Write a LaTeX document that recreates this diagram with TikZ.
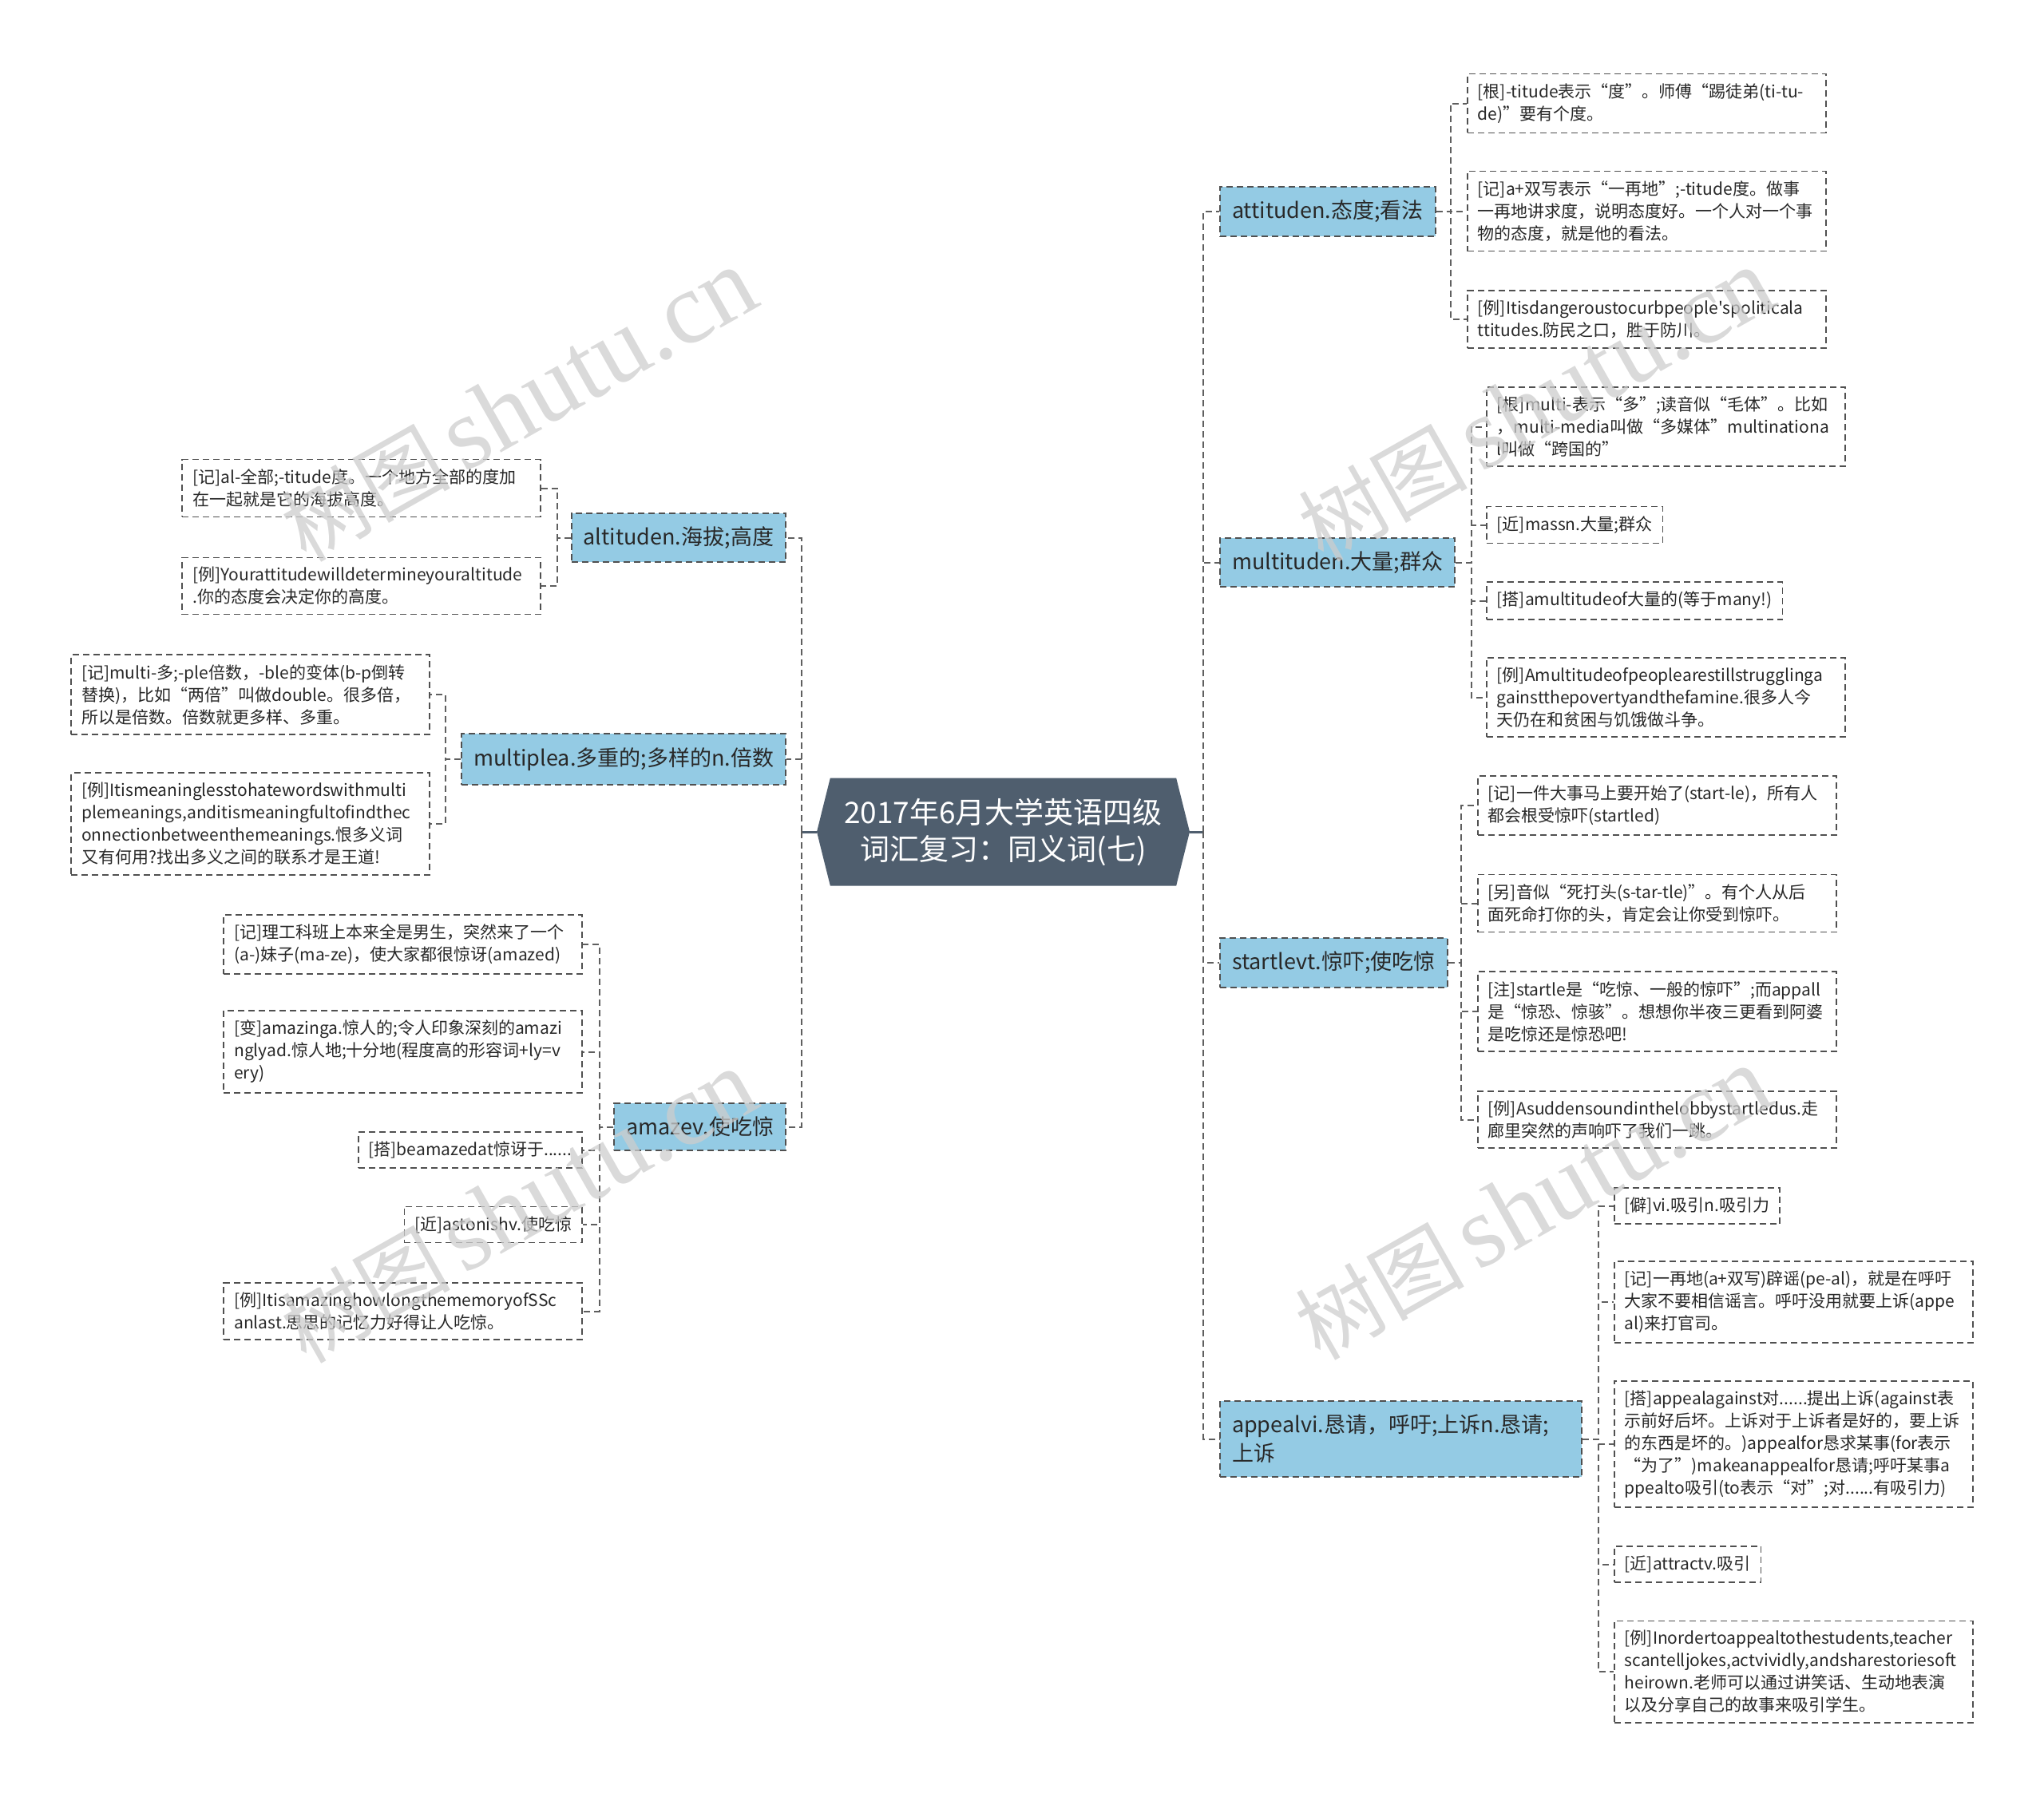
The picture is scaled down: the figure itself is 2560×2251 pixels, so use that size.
\documentclass[tikz,border=0pt]{standalone}
\usepackage{fontspec}
\setmainfont{Noto Sans CJK SC}[Ligatures=TeXOff]
\newfontfamily\wmserif{Liberation Serif}
\usetikzlibrary{shapes.symbols}

\definecolor{rootc}{RGB}{79,94,110}
\definecolor{branchc}{RGB}{148,203,228}
\definecolor{edgec}{RGB}{80,80,80}
\definecolor{linec}{RGB}{95,95,95}
\definecolor{textc}{RGB}{40,40,40}
\definecolor{markc}{RGB}{205,205,205}

\newcommand{\leaffont}{\fontsize{21}{28}\selectfont}
\newcommand{\branchfont}{\fontsize{27}{36}\selectfont}
\newcommand{\rootfont}{\fontsize{37}{46}\selectfont}
\newcommand{\wmtext}{{\fontsize{106}{106}\selectfont 树图}\hspace{16pt}{\wmserif\fontsize{128}{128}\selectfont shutu.cn}}

\tikzset{
  root/.style={signal, signal to=west and east, signal pointer angle=152, fill=rootc, text=white,
    font=\rootfont, align=center, minimum height=135pt, minimum width=467pt, inner sep=0pt},
  branch/.style={draw=edgec, dash pattern=on 8pt off 5pt, line width=2pt, fill=branchc, text=textc,
    font=\branchfont, inner xsep=15pt, inner ysep=17pt, align=left},
  leaf/.style={draw=edgec, dash pattern=on 8pt off 5pt, line width=1.6pt, fill=white, text=textc,
    font=\leaffont, inner xsep=13pt, inner ysep=12pt, align=left},
  wideleaf/.style={leaf, text width=423pt},
  link/.style={draw=linec, dash pattern=on 8pt off 5pt, line width=2pt},
  trunk/.style={draw=rootc, line width=3pt},
  wmark/.style={text=markc, text opacity=0.75, rotate=29.5, inner sep=0pt}
}

\begin{document}
\begin{tikzpicture}[x=1pt, y=-1pt]
  \useasboundingbox (0,0) rectangle (2560,2251);

  % centre
  \node[root] (root) at (1256.5,1042) {2017年6月大学英语四级\\词汇复习：同义词(七)};

  % right side
  \node[branch, anchor=west] (att) at (1527,265) {attituden.态度;看法};
  \node[branch, anchor=west] (mul) at (1527,704.5) {multituden.大量;群众};
  \node[branch, anchor=west] (sta) at (1527,1206) {startlevt.惊吓;使吃惊};
  \node[branch, anchor=west, text width=423pt] (app) at (1527,1802.5) {appealvi.恳请，呼吁;上诉n.恳请;\\上诉};

  \node[wideleaf, anchor=west] (a1) at (1837,129.5) {[根]-titude表示“度”。师傅“踢徒弟(ti-tu-\\de)”要有个度。};
  \node[wideleaf, anchor=west] (a2) at (1837,264.5) {[记]a+双写表示“一再地”;-titude度。做事\\一再地讲求度，说明态度好。一个人对一个事\\物的态度，就是他的看法。};
  \node[wideleaf, anchor=west] (a3) at (1837,400) {[例]Itisdangeroustocurbpeople'spoliticala\\ttitudes.防民之口，胜于防川。};

  \node[wideleaf, anchor=west] (m1) at (1861,534.5) {[根]multi-表示“多”;读音似“毛体”。比如\\，multi-media叫做“多媒体”multinationa\\l叫做“跨国的”};
  \node[leaf, anchor=west] (m2) at (1861,657.5) {[近]massn.大量;群众};
  \node[leaf, anchor=west] (m3) at (1861,752.5) {[搭]amultitudeof大量的(等于many!)};
  \node[wideleaf, anchor=west] (m4) at (1861,873.5) {[例]Amultitudeofpeoplearestillstrugglinga\\gainstthepovertyandthefamine.很多人今\\天仍在和贫困与饥饿做斗争。};

  \node[wideleaf, anchor=west] (s1) at (1850,1009) {[记]一件大事马上要开始了(start-le)，所有人\\都会根受惊吓(startled)};
  \node[wideleaf, anchor=west] (s2) at (1850,1131.5) {[另]音似“死打头(s-tar-tle)”。有个人从后\\面死命打你的头，肯定会让你受到惊吓。};
  \node[wideleaf, anchor=west] (s3) at (1850,1267) {[注]startle是“吃惊、一般的惊吓”;而appall\\是“惊恐、惊骇”。想想你半夜三更看到阿婆\\是吃惊还是惊恐吧!};
  \node[wideleaf, anchor=west] (s4) at (1850,1402.5) {[例]Asuddensoundinthelobbystartledus.走\\廊里突然的声响吓了我们一跳。};

  \node[leaf, anchor=west] (p1) at (2021,1510.5) {[僻]vi.吸引n.吸引力};
  \node[wideleaf, anchor=west] (p2) at (2021,1631) {[记]一再地(a+双写)辟谣(pe-al)，就是在呼吁\\大家不要相信谣言。呼吁没用就要上诉(appe\\al)来打官司。};
  \node[wideleaf, anchor=west] (p3) at (2021,1809) {[搭]appealagainst对......提出上诉(against表\\示前好后坏。上诉对于上诉者是好的，要上诉\\的东西是坏的。)appealfor恳求某事(for表示\\“为了”)makeanappealfor恳请;呼吁某事a\\ppealto吸引(to表示“对”;对......有吸引力)};
  \node[leaf, anchor=west] (p4) at (2021,1959.5) {[近]attractv.吸引};
  \node[wideleaf, anchor=west] (p5) at (2021,2094) {[例]Inordertoappealtothestudents,teacher\\scantelljokes,actvividly,andsharestoriesoft\\heirown.老师可以通过讲笑话、生动地表演\\以及分享自己的故事来吸引学生。};

  % left side
  \node[branch, anchor=east] (alt) at (985,673.5) {altituden.海拔;高度};
  \node[branch, anchor=east] (mpl) at (985,951) {multiplea.多重的;多样的n.倍数};
  \node[branch, anchor=east] (ama) at (985,1411.5) {amazev.使吃惊};

  \node[wideleaf, anchor=east] (l1) at (678,611.5) {[记]al-全部;-titude度。一个地方全部的度加\\在一起就是它的海拔高度。};
  \node[wideleaf, anchor=east] (l2) at (678,734) {[例]Yourattitudewilldetermineyouraltitude\\.你的态度会决定你的高度。};

  \node[wideleaf, anchor=east] (u1) at (539,870) {[记]multi-多;-ple倍数，-ble的变体(b-p倒转\\替换)，比如“两倍”叫做double。很多倍，\\所以是倍数。倍数就更多样、多重。};
  \node[wideleaf, anchor=east] (u2) at (539,1032) {[例]Itismeaninglesstohatewordswithmulti\\plemeanings,anditismeaningfultofindthec\\onnectionbetweenthemeanings.恨多义词\\又有何用?找出多义之间的联系才是王道!};

  \node[wideleaf, anchor=east] (z1) at (730,1183) {[记]理工科班上本来全是男生，突然来了一个\\(a-)妹子(ma-ze)，使大家都很惊讶(amazed)};
  \node[wideleaf, anchor=east] (z2) at (730,1317.5) {[变]amazinga.惊人的;令人印象深刻的amazi\\nglyad.惊人地;十分地(程度高的形容词+ly=v\\ery)};
  \node[leaf, anchor=east] (z3) at (730,1440.5) {[搭]beamazedat惊讶于......};
  \node[leaf, anchor=east] (z4) at (730,1534) {[近]astonishv.使吃惊};
  \node[wideleaf, anchor=east] (z5) at (730,1642.5) {[例]ItisamazinghowlongthememoryofSSc\\anlast.思思的记忆力好得让人吃惊。};

  % trunks
  \draw[trunk] (root.east) -- ++(17,0) coordinate (rj);
  \draw[trunk] (root.west) -- ++(-19,0) coordinate (lj);
  \draw[link] (rj) |- (att.west);
  \draw[link] (rj) |- (mul.west);
  \draw[link] (rj) |- (sta.west);
  \draw[link] (rj) |- (app.west);
  \draw[link] (lj) |- (alt.east);
  \draw[link] (lj) |- (mpl.east);
  \draw[link] (lj) |- (ama.east);

  % right leaves
  \draw[link] (att.east) -- ([xshift=-20pt]a1.west |- att.east) |- (a1.west);
  \draw[link] (att.east) -- ([xshift=-20pt]a2.west |- att.east) |- (a2.west);
  \draw[link] (att.east) -- ([xshift=-20pt]a3.west |- att.east) |- (a3.west);
  \draw[link] (mul.east) -- ([xshift=-18pt]m1.west |- mul.east) |- (m1.west);
  \draw[link] (mul.east) -- ([xshift=-18pt]m2.west |- mul.east) |- (m2.west);
  \draw[link] (mul.east) -- ([xshift=-18pt]m3.west |- mul.east) |- (m3.west);
  \draw[link] (mul.east) -- ([xshift=-18pt]m4.west |- mul.east) |- (m4.west);
  \draw[link] (sta.east) -- ([xshift=-20pt]s1.west |- sta.east) |- (s1.west);
  \draw[link] (sta.east) -- ([xshift=-20pt]s2.west |- sta.east) |- (s2.west);
  \draw[link] (sta.east) -- ([xshift=-20pt]s3.west |- sta.east) |- (s3.west);
  \draw[link] (sta.east) -- ([xshift=-20pt]s4.west |- sta.east) |- (s4.west);
  \draw[link] (app.east) -- ([xshift=-19pt]p1.west |- app.east) |- (p1.west);
  \draw[link] (app.east) -- ([xshift=-19pt]p2.west |- app.east) |- (p2.west);
  \draw[link] (app.east) -- ([xshift=-19pt]p3.west |- app.east) |- (p3.west);
  \draw[link] (app.east) -- ([xshift=-19pt]p4.west |- app.east) |- (p4.west);
  \draw[link] (app.east) -- ([xshift=-19pt]p5.west |- app.east) |- (p5.west);

  % left leaves
  \draw[link] (alt.west) -- ([xshift=20pt]l1.east |- alt.west) |- (l1.east);
  \draw[link] (alt.west) -- ([xshift=20pt]l2.east |- alt.west) |- (l2.east);
  \draw[link] (mpl.west) -- ([xshift=19pt]u1.east |- mpl.west) |- (u1.east);
  \draw[link] (mpl.west) -- ([xshift=19pt]u2.east |- mpl.west) |- (u2.east);
  \draw[link] (ama.west) -- ([xshift=21pt]z1.east |- ama.west) |- (z1.east);
  \draw[link] (ama.west) -- ([xshift=21pt]z2.east |- ama.west) |- (z2.east);
  \draw[link] (ama.west) -- ([xshift=21pt]z3.east |- ama.west) |- (z3.east);
  \draw[link] (ama.west) -- ([xshift=21pt]z4.east |- ama.west) |- (z4.east);
  \draw[link] (ama.west) -- ([xshift=21pt]z5.east |- ama.west) |- (z5.east);

  % watermarks
  \node[wmark] (wm1) at (650,508) {\wmtext};
  \node[wmark] (wm2) at (1924,508) {\wmtext};
  \node[wmark] (wm3) at (650,1512) {\wmtext};
  \node[wmark] (wm4) at (1920,1508) {\wmtext};
\end{tikzpicture}
\end{document}
